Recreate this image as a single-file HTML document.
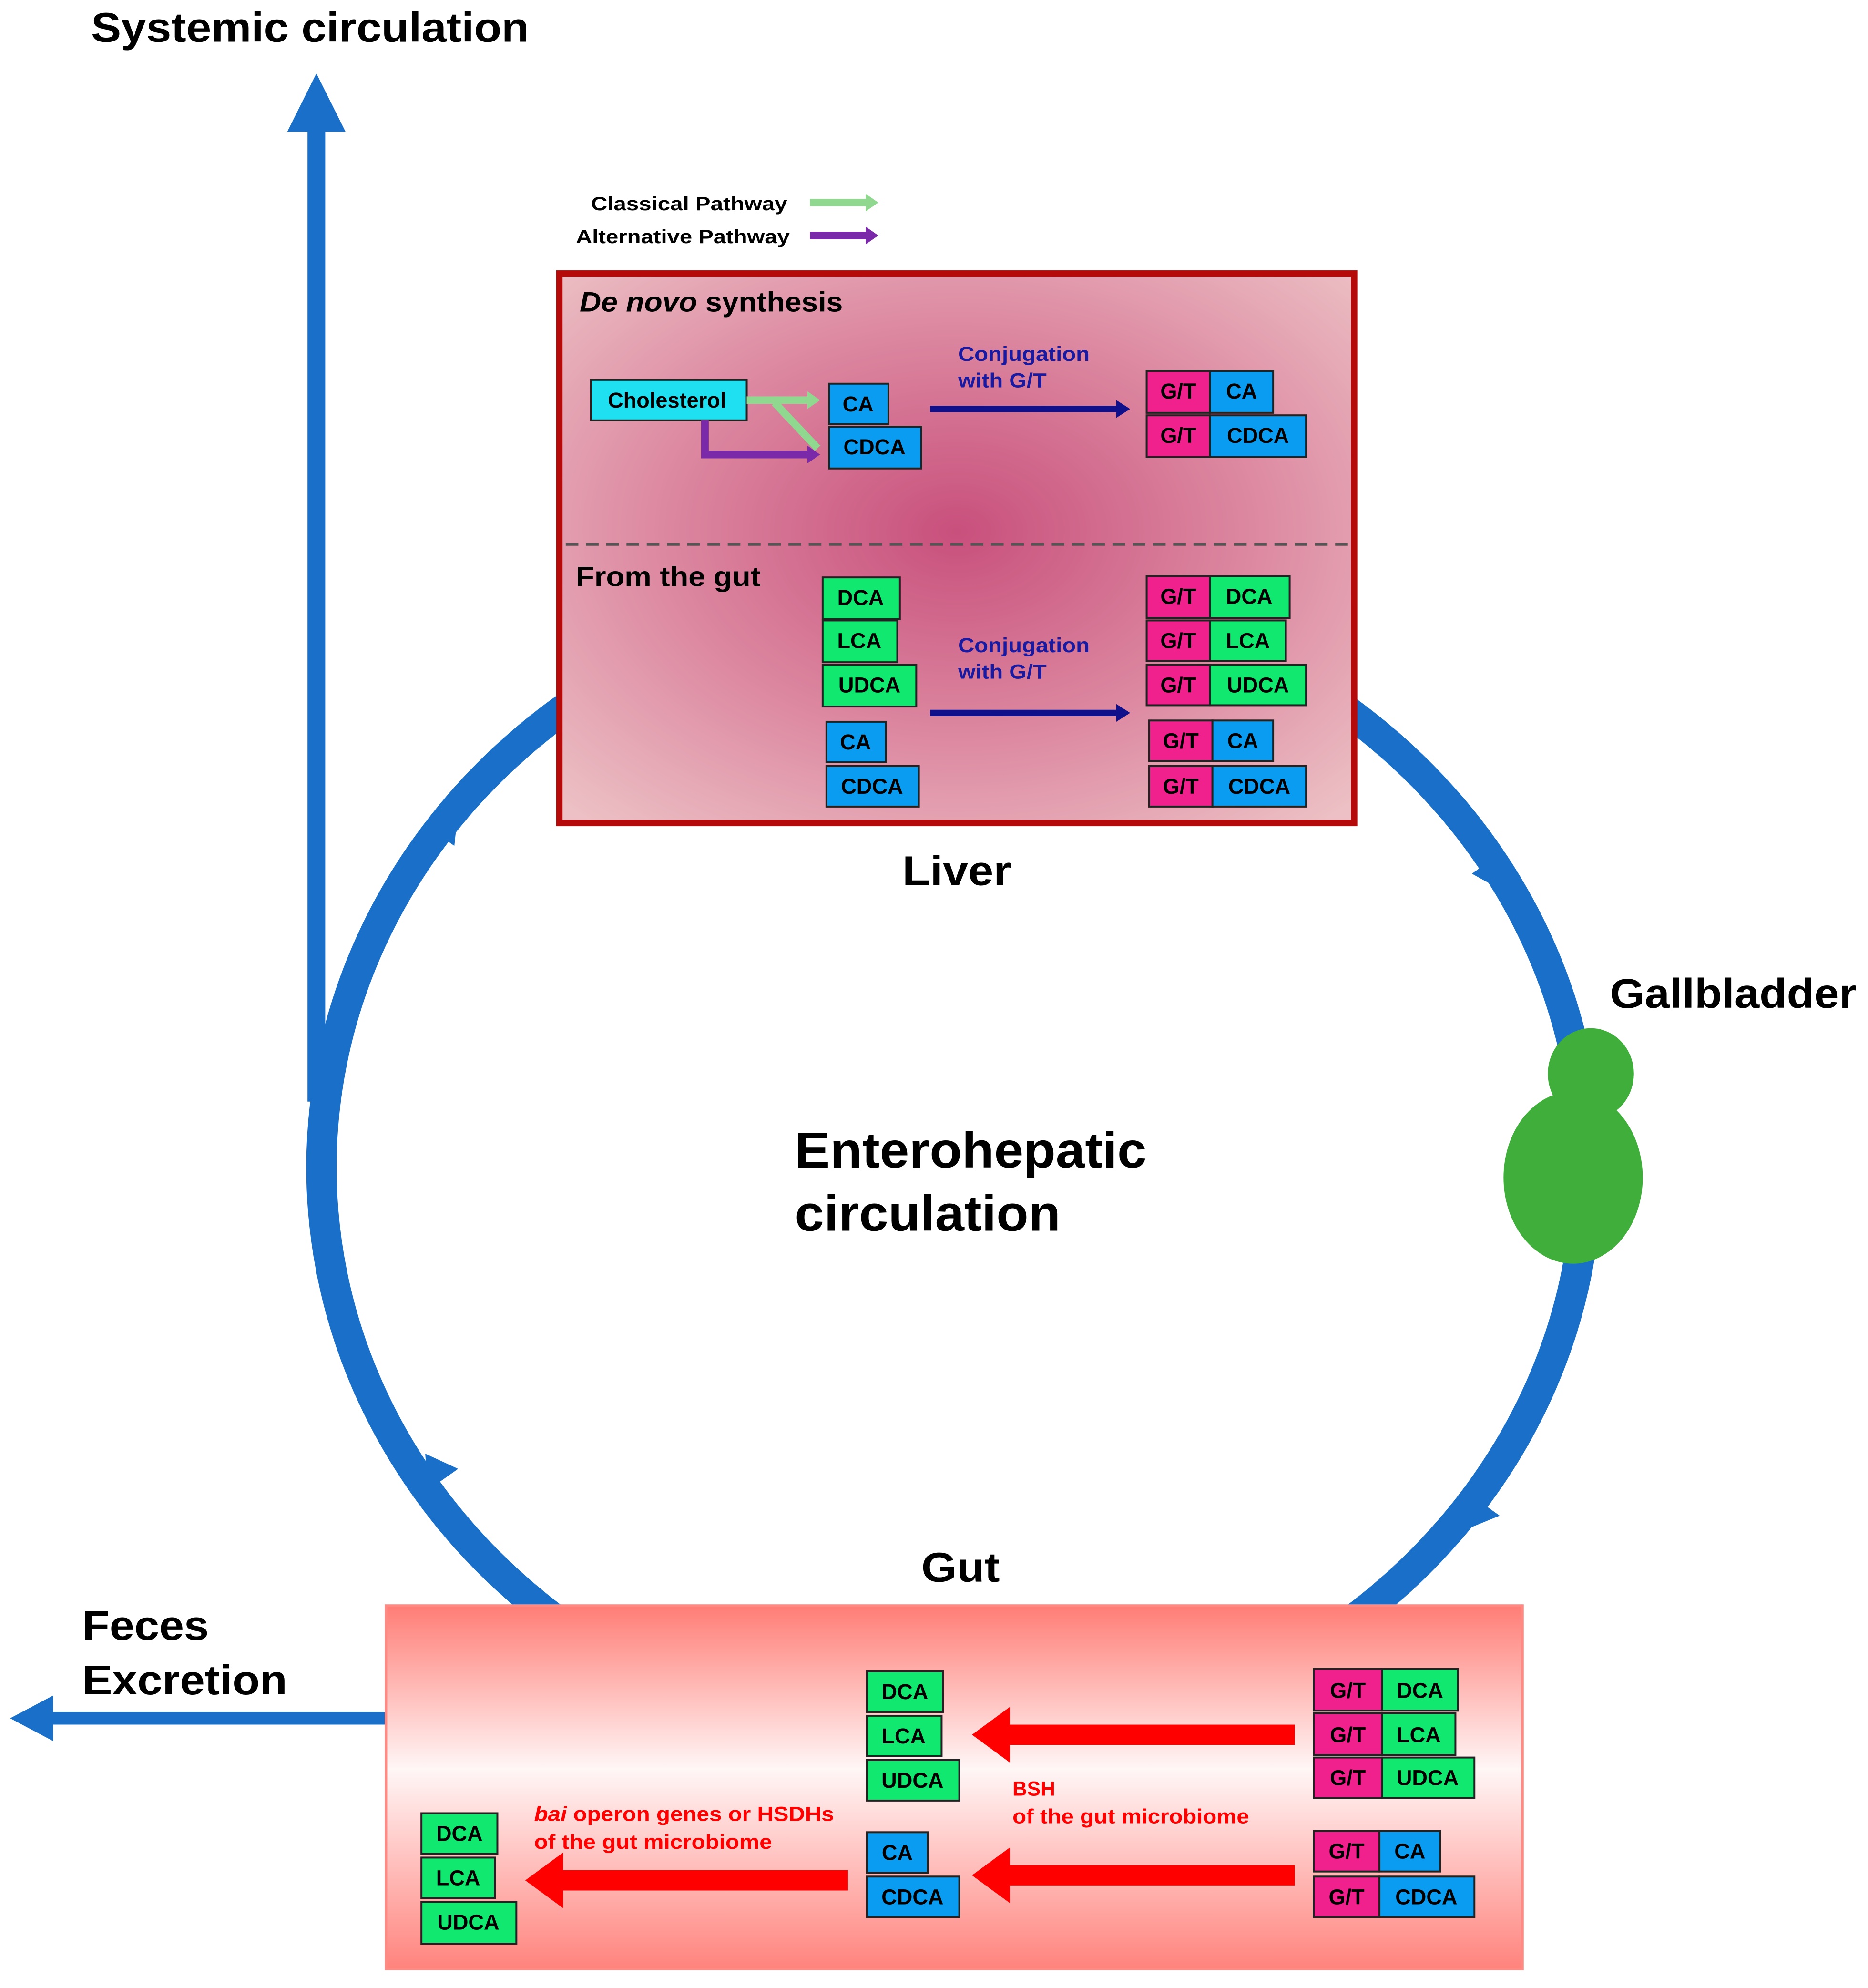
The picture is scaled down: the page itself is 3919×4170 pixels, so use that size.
<!DOCTYPE html>
<html><head><meta charset="utf-8"><style>
html,body{margin:0;padding:0;background:#fff;}
svg{display:block;}
text{font-family:"Liberation Sans",Arial,sans-serif;font-weight:bold;}
.b{font-size:17px;fill:#000;text-anchor:middle;dominant-baseline:central;}
</style></head><body>
<svg width="3919" height="4170" viewBox="0 0 1476 1570" preserveAspectRatio="none" xmlns="http://www.w3.org/2000/svg">
<defs>
<radialGradient id="lg" cx="0.5" cy="0.47" r="0.7">
<stop offset="0" stop-color="#c8507c"/><stop offset="0.55" stop-color="#dd8aa2"/><stop offset="1" stop-color="#ecc0c4"/>
</radialGradient>
<linearGradient id="gg" x1="0" y1="0" x2="0" y2="1">
<stop offset="0" stop-color="#ff7d76"/><stop offset="0.45" stop-color="#fff6f6"/><stop offset="1" stop-color="#ff837d"/>
</linearGradient>
</defs>
<rect width="1476" height="1570" fill="#fff"/>
<ellipse cx="754" cy="922" rx="500" ry="460" fill="none" stroke="#1a70c8" stroke-width="24"/>
<polygon points="362,640 359,668 335,651" fill="#1a70c8"/>
<polygon points="1192,706 1163,690 1187,673" fill="#1a70c8"/>
<polygon points="1158,1208 1161,1180 1185,1197" fill="#1a70c8"/>
<polygon points="336,1148 362,1160 338,1177" fill="#1a70c8"/>
<line x1="250" y1="870" x2="250" y2="100" stroke="#1a70c8" stroke-width="14"/>
<polygon points="250,58 227,104 273,104" fill="#1a70c8"/>
<text x="72" y="33" font-size="33" textLength="346" lengthAdjust="spacingAndGlyphs">Systemic circulation</text>
<text x="467" y="166" font-size="15" textLength="155" lengthAdjust="spacingAndGlyphs">Classical Pathway</text>
<line x1="640" y1="160" x2="686" y2="160" stroke="#90d890" stroke-width="6"/>
<polygon points="694,160 684,153 684,167" fill="#90d890"/>
<text x="455" y="192" font-size="15" textLength="169" lengthAdjust="spacingAndGlyphs">Alternative Pathway</text>
<line x1="640" y1="186" x2="686" y2="186" stroke="#7a2aa8" stroke-width="6"/>
<polygon points="694,186 684,179 684,193" fill="#7a2aa8"/>
<rect x="442" y="216" width="628" height="434" fill="url(#lg)" stroke="#b40a0a" stroke-width="5"/>
<line x1="447" y1="430" x2="1066" y2="430" stroke="#555" stroke-width="2" stroke-dasharray="10,6"/>
<text x="458" y="246" font-size="22" textLength="208" lengthAdjust="spacingAndGlyphs"><tspan font-style="italic">De novo</tspan> synthesis</text>
<text x="455" y="463" font-size="22" textLength="146" lengthAdjust="spacingAndGlyphs">From the gut</text>
<g stroke="#222" stroke-width="1.5">
<rect x="467" y="300" width="123" height="32" fill="#1ee0f0"/>
<rect x="655" y="303" width="47" height="32" fill="#0a9cf0"/>
<rect x="655" y="337" width="73" height="33" fill="#0a9cf0"/>
<rect x="906" y="293" width="50" height="33" fill="#f0208c"/><rect x="956" y="293" width="50" height="33" fill="#0a9cf0"/>
<rect x="906" y="328" width="50" height="33" fill="#f0208c"/><rect x="956" y="328" width="76" height="33" fill="#0a9cf0"/>
<rect x="650" y="456" width="61" height="33" fill="#10e870"/>
<rect x="650" y="490" width="59" height="33" fill="#10e870"/>
<rect x="650" y="525" width="74" height="33" fill="#10e870"/>
<rect x="653" y="570" width="47" height="32" fill="#0a9cf0"/>
<rect x="653" y="605" width="73" height="32" fill="#0a9cf0"/>
<rect x="906" y="455" width="50" height="33" fill="#f0208c"/><rect x="956" y="455" width="63" height="33" fill="#10e870"/>
<rect x="906" y="490" width="50" height="32" fill="#f0208c"/><rect x="956" y="490" width="60" height="32" fill="#10e870"/>
<rect x="906" y="525" width="50" height="32" fill="#f0208c"/><rect x="956" y="525" width="76" height="32" fill="#10e870"/>
<rect x="908" y="569" width="50" height="32" fill="#f0208c"/><rect x="958" y="569" width="48" height="32" fill="#0a9cf0"/>
<rect x="908" y="605" width="50" height="32" fill="#f0208c"/><rect x="958" y="605" width="74" height="32" fill="#0a9cf0"/>
</g>
<text class="b" x="527" y="316">Cholesterol</text>
<text class="b" x="678" y="319">CA</text>
<text class="b" x="691" y="353">CDCA</text>
<text class="b" x="931" y="309">G/T</text><text class="b" x="981" y="309">CA</text>
<text class="b" x="931" y="344">G/T</text><text class="b" x="994" y="344">CDCA</text>
<text class="b" x="680" y="472">DCA</text><text class="b" x="679" y="506">LCA</text><text class="b" x="687" y="541">UDCA</text>
<text class="b" x="676" y="586">CA</text><text class="b" x="689" y="621">CDCA</text>
<text class="b" x="931" y="471">G/T</text><text class="b" x="987" y="471">DCA</text>
<text class="b" x="931" y="506">G/T</text><text class="b" x="986" y="506">LCA</text>
<text class="b" x="931" y="541">G/T</text><text class="b" x="994" y="541">UDCA</text>
<text class="b" x="933" y="585">G/T</text><text class="b" x="982" y="585">CA</text>
<text class="b" x="933" y="621">G/T</text><text class="b" x="995" y="621">CDCA</text>
<line x1="590" y1="316" x2="640" y2="316" stroke="#90d890" stroke-width="6"/>
<polygon points="648,316 638,309 638,323" fill="#90d890"/>
<line x1="612" y1="318" x2="646" y2="354" stroke="#90d890" stroke-width="6"/>
<polyline points="557,332 557,359 640,359" fill="none" stroke="#7a2aa8" stroke-width="6"/>
<polygon points="648,359 638,352 638,366" fill="#7a2aa8"/>
<text x="757" y="285" font-size="16" fill="#1a1aa0" textLength="104" lengthAdjust="spacingAndGlyphs">Conjugation</text>
<text x="757" y="306" font-size="16" fill="#1a1aa0" textLength="70" lengthAdjust="spacingAndGlyphs">with G/T</text>
<line x1="735" y1="323" x2="884" y2="323" stroke="#10108a" stroke-width="5"/>
<polygon points="893,323 882,316 882,330" fill="#10108a"/>
<text x="757" y="515" font-size="16" fill="#1a1aa0" textLength="104" lengthAdjust="spacingAndGlyphs">Conjugation</text>
<text x="757" y="536" font-size="16" fill="#1a1aa0" textLength="70" lengthAdjust="spacingAndGlyphs">with G/T</text>
<line x1="735" y1="563" x2="884" y2="563" stroke="#10108a" stroke-width="5"/>
<polygon points="893,563 882,556 882,570" fill="#10108a"/>
<text x="713" y="699" font-size="33" textLength="86" lengthAdjust="spacingAndGlyphs">Liver</text>
<ellipse cx="1257" cy="848" rx="34" ry="36" fill="#3fae3a"/>
<ellipse cx="1243" cy="930" rx="55" ry="68" fill="#3fae3a"/>
<text x="1272" y="796" font-size="33" textLength="195" lengthAdjust="spacingAndGlyphs">Gallbladder</text>
<text x="628" y="922" font-size="40" textLength="278" lengthAdjust="spacingAndGlyphs">Enterohepatic</text>
<text x="628" y="972" font-size="40" textLength="210" lengthAdjust="spacingAndGlyphs">circulation</text>
<text x="728" y="1249" font-size="33" textLength="62" lengthAdjust="spacingAndGlyphs">Gut</text>
<text x="65" y="1295" font-size="33" textLength="100" lengthAdjust="spacingAndGlyphs">Feces</text>
<text x="65" y="1338" font-size="33" textLength="162" lengthAdjust="spacingAndGlyphs">Excretion</text>
<line x1="305" y1="1357" x2="38" y2="1357" stroke="#1a70c8" stroke-width="10"/>
<polygon points="8,1357 42,1339 42,1375" fill="#1a70c8"/>
<rect x="305" y="1268" width="898" height="287" fill="url(#gg)" stroke="#ff8a84" stroke-width="2"/>
<g stroke="#222" stroke-width="1.5">
<rect x="685" y="1320" width="60" height="32" fill="#10e870"/>
<rect x="685" y="1355" width="59" height="32" fill="#10e870"/>
<rect x="685" y="1390" width="73" height="32" fill="#10e870"/>
<rect x="685" y="1447" width="48" height="32" fill="#0a9cf0"/>
<rect x="685" y="1482" width="73" height="32" fill="#0a9cf0"/>
<rect x="1038" y="1318" width="54" height="33" fill="#f0208c"/><rect x="1092" y="1318" width="60" height="33" fill="#10e870"/>
<rect x="1038" y="1353" width="54" height="33" fill="#f0208c"/><rect x="1092" y="1353" width="58" height="33" fill="#10e870"/>
<rect x="1038" y="1388" width="54" height="32" fill="#f0208c"/><rect x="1092" y="1388" width="73" height="32" fill="#10e870"/>
<rect x="1038" y="1446" width="52" height="32" fill="#f0208c"/><rect x="1090" y="1446" width="48" height="32" fill="#0a9cf0"/>
<rect x="1038" y="1482" width="52" height="32" fill="#f0208c"/><rect x="1090" y="1482" width="75" height="32" fill="#0a9cf0"/>
<rect x="333" y="1432" width="60" height="32" fill="#10e870"/>
<rect x="333" y="1467" width="58" height="32" fill="#10e870"/>
<rect x="333" y="1502" width="75" height="33" fill="#10e870"/>
</g>
<text class="b" x="715" y="1336">DCA</text><text class="b" x="714" y="1371">LCA</text><text class="b" x="721" y="1406">UDCA</text>
<text class="b" x="709" y="1463">CA</text><text class="b" x="721" y="1498">CDCA</text>
<text class="b" x="1065" y="1335">G/T</text><text class="b" x="1122" y="1335">DCA</text>
<text class="b" x="1065" y="1370">G/T</text><text class="b" x="1121" y="1370">LCA</text>
<text class="b" x="1065" y="1404">G/T</text><text class="b" x="1128" y="1404">UDCA</text>
<text class="b" x="1064" y="1462">G/T</text><text class="b" x="1114" y="1462">CA</text>
<text class="b" x="1064" y="1498">G/T</text><text class="b" x="1127" y="1498">CDCA</text>
<text class="b" x="363" y="1448">DCA</text><text class="b" x="362" y="1483">LCA</text><text class="b" x="370" y="1518">UDCA</text>
<rect x="795" y="1362" width="228" height="16" fill="#f00"/>
<polygon points="768,1370 798,1348 798,1392" fill="#f00"/>
<rect x="795" y="1473" width="228" height="16" fill="#f00"/>
<polygon points="768,1481 798,1459 798,1503" fill="#f00"/>
<rect x="442" y="1477" width="228" height="16" fill="#f00"/>
<polygon points="415,1485 445,1463 445,1507" fill="#f00"/>
<text x="800" y="1418" font-size="16" fill="#f00">BSH</text>
<text x="800" y="1440" font-size="16" fill="#f00" textLength="187" lengthAdjust="spacingAndGlyphs">of the gut microbiome</text>
<text x="422" y="1438" font-size="16" fill="#f00" textLength="237" lengthAdjust="spacingAndGlyphs"><tspan font-style="italic">bai</tspan> operon genes or HSDHs</text>
<text x="422" y="1460" font-size="16" fill="#f00" textLength="188" lengthAdjust="spacingAndGlyphs">of the gut microbiome</text>
</svg>
</body></html>
